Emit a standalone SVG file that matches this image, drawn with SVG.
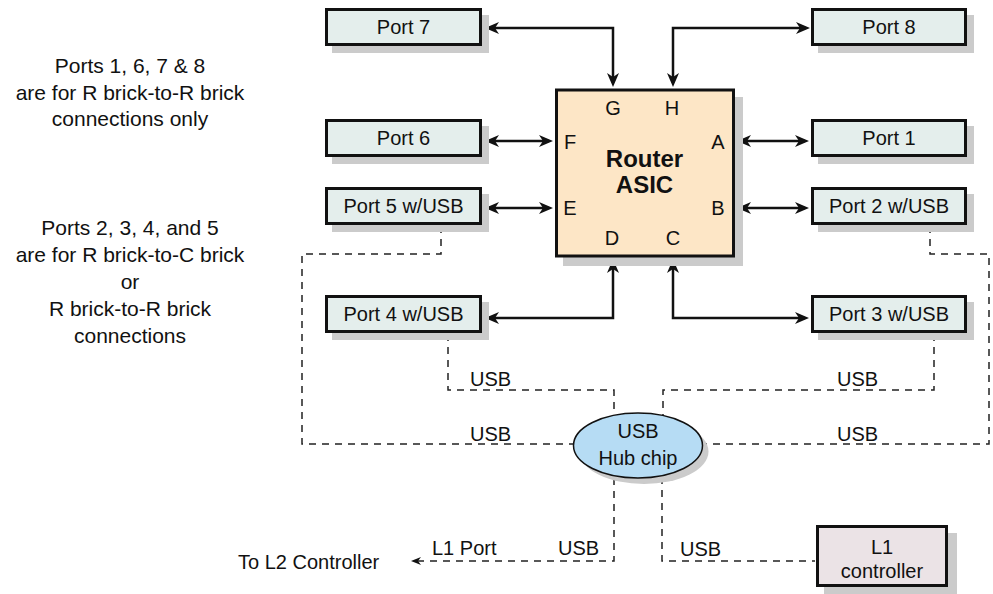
<svg xmlns="http://www.w3.org/2000/svg" width="993" height="594" viewBox="0 0 993 594">
<style>
text{font-family:"Liberation Sans",Arial,sans-serif;font-size:20px;fill:#111}
.c{text-anchor:middle}
.note{font-size:21px;text-anchor:middle}
.shadow{fill:#cbcbcb;stroke:none}
.port{fill:#e4eeec;stroke:#111;stroke-width:3}
.router{fill:#fde6c6;stroke:#111;stroke-width:3}
.hub{fill:#b6dcf4;stroke:#111;stroke-width:1.5}
.l1{fill:#ebe3e6;stroke:#111;stroke-width:3}
.link{fill:none;stroke:#111;stroke-width:2.5;marker-start:url(#ah);marker-end:url(#ah)}
.usb{fill:none;stroke:#222;stroke-width:1.5;stroke-dasharray:7 6}
.bold{font-weight:bold;font-size:24px}
</style>
<defs>
<marker id="ah" viewBox="0 0 14 12" refX="10" refY="6" markerWidth="14" markerHeight="12" orient="auto-start-reverse" markerUnits="userSpaceOnUse">
<path d="M0,0 L14,6 L0,12 L4,6 z" fill="#111"/>
</marker>
<marker id="sa" viewBox="0 0 10 8" refX="4" refY="4" markerWidth="10" markerHeight="8" orient="auto" markerUnits="userSpaceOnUse">
<path d="M0,0 L10,4 L0,8 L3,4 z" fill="#111"/>
</marker>
</defs>

<g id="notes">
<text class="note" x="130" y="73">Ports 1, 6, 7 &amp; 8</text>
<text class="note" x="130" y="100">are for R brick-to-R brick</text>
<text class="note" x="130" y="126">connections only</text>
<text class="note" x="130" y="235">Ports 2, 3, 4, and 5</text>
<text class="note" x="130" y="262">are for R brick-to-C brick</text>
<text class="note" x="130" y="289">or</text>
<text class="note" x="130" y="316">R brick-to-R brick</text>
<text class="note" x="130" y="343">connections</text>
</g>

<g id="connectors">
<path class="usb" d="M441,226 V254 H302 V444 H574"/>
<path class="usb" d="M448,334 V390 H614 V413"/>
<path class="usb" d="M930,226 V254 H989 V444 H703"/>
<path class="usb" d="M934,334 V390 H663 V415"/>
<path class="usb" d="M614,478 V561 H417" marker-end="url(#sa)"/>
<path class="usb" d="M662,477 V561 H815"/>
<path class="link" d="M489,28 H613 V83"/>
<path class="link" d="M806,28 H673 V83"/>
<path class="link" d="M489,141 H549"/>
<path class="link" d="M489,208 H549"/>
<path class="link" d="M741,141 H805"/>
<path class="link" d="M741,208 H805"/>
<path class="link" d="M489,318 H613 V263"/>
<path class="link" d="M805,318 H673 V263"/>
<text x="470" y="386">USB</text>
<text x="470" y="441">USB</text>
<text x="837" y="386">USB</text>
<text x="837" y="441">USB</text>
<text x="432" y="555">L1 Port</text>
<text x="558" y="555">USB</text>
<text x="680" y="556">USB</text>
<text x="238" y="569">To L2 Controller</text>
</g>

<g id="router">
<rect class="shadow" x="563" y="97" width="180" height="169"/>
<rect class="router" x="556.5" y="90" width="177" height="166"/>
<text class="c bold" x="644.5" y="167">Router</text>
<text class="c bold" x="644.5" y="193">ASIC</text>
<text class="c" x="613" y="115">G</text>
<text class="c" x="672" y="115">H</text>
<text class="c" x="570" y="149">F</text>
<text class="c" x="718" y="149">A</text>
<text class="c" x="570" y="215">E</text>
<text class="c" x="718" y="215">B</text>
<text class="c" x="612" y="245">D</text>
<text class="c" x="673" y="245">C</text>
</g>

<g id="port7">
<rect class="shadow" x="332" y="15" width="157" height="38"/>
<rect class="port" x="326.5" y="9.5" width="154" height="35"/>
<text class="c" x="403.5" y="34">Port 7</text>
</g>
<g id="port6">
<rect class="shadow" x="332" y="126" width="157" height="38"/>
<rect class="port" x="326.5" y="120.5" width="154" height="35"/>
<text class="c" x="403.5" y="145">Port 6</text>
</g>
<g id="port5">
<rect class="shadow" x="332" y="194" width="157" height="38"/>
<rect class="port" x="326.5" y="188.5" width="154" height="35"/>
<text class="c" x="403.5" y="213">Port 5 w/USB</text>
</g>
<g id="port4">
<rect class="shadow" x="332" y="302" width="157" height="38"/>
<rect class="port" x="326.5" y="296.5" width="154" height="35"/>
<text class="c" x="403.5" y="321">Port 4 w/USB</text>
</g>
<g id="port8">
<rect class="shadow" x="818" y="15" width="156" height="38"/>
<rect class="port" x="812.5" y="9.5" width="153" height="35"/>
<text class="c" x="889" y="34">Port 8</text>
</g>
<g id="port1">
<rect class="shadow" x="818" y="126" width="156" height="38"/>
<rect class="port" x="812.5" y="120.5" width="153" height="35"/>
<text class="c" x="889" y="145">Port 1</text>
</g>
<g id="port2">
<rect class="shadow" x="818" y="194" width="156" height="38"/>
<rect class="port" x="812.5" y="188.5" width="153" height="35"/>
<text class="c" x="889" y="213">Port 2 w/USB</text>
</g>
<g id="port3">
<rect class="shadow" x="818" y="302" width="156" height="38"/>
<rect class="port" x="812.5" y="296.5" width="153" height="35"/>
<text class="c" x="889" y="321">Port 3 w/USB</text>
</g>

<g id="hub">
<ellipse class="shadow" cx="644" cy="451.5" rx="64.5" ry="32.5"/>
<ellipse class="hub" cx="638" cy="445.5" rx="64.5" ry="32.5"/>
<text class="c" x="638" y="438">USB</text>
<text class="c" x="638" y="465">Hub chip</text>
</g>

<g id="l1controller">
<rect class="shadow" x="824" y="533" width="133" height="61"/>
<rect class="l1" x="817.5" y="526.5" width="129" height="59"/>
<text class="c" x="882" y="554">L1</text>
<text class="c" x="882" y="578">controller</text>
</g>
</svg>
